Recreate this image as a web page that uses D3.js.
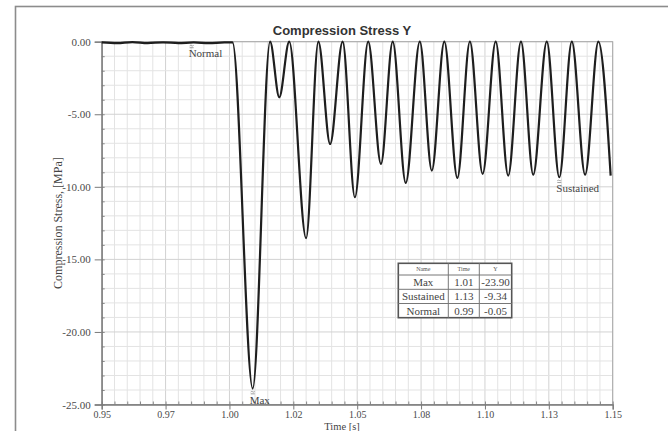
<!DOCTYPE html>
<html><head><meta charset="utf-8">
<script src="https://cdn.jsdelivr.net/npm/d3@7"></script>
<style>
html,body{margin:0;padding:0;background:#fff;}
svg{display:block;}
</style></head>
<body><svg id="c" width="668" height="431"></svg>
<script>
// ---- data ----
const time = [0.950, 0.956, 0.962, 0.968, 0.974, 0.980, 0.986, 0.992, 0.998, 1.0012,
  1.0091, 1.0159, 1.0195, 1.0234, 1.0300, 1.0348, 1.0394, 1.0443, 1.0491, 1.0543,
  1.0593, 1.0639, 1.0690, 1.0745, 1.0792, 1.0841, 1.0892, 1.0941, 1.0991, 1.1042,
  1.1091, 1.1141, 1.1189, 1.1242, 1.1291, 1.1340, 1.1392, 1.1444, 1.1492];
const stress = [-0.05, -0.10, -0.03, -0.10, -0.04, -0.10, -0.05, -0.10, -0.05, -0.05,
  -23.90, 0, -3.83, 0, -13.54, 0, -7.05, 0, -10.72, 0,
  -8.42, 0, -9.73, 0, -8.88, 0, -9.39, 0, -9.11, 0,
  -9.23, 0, -9.16, 0, -9.34, 0, -9.16, 0, -9.23];
const xTickValues = [0.95, 0.975, 1.0, 1.025, 1.05, 1.075, 1.1, 1.125, 1.15];
const xTickLabels = ["0.95", "0.97", "1.00", "1.02", "1.05", "1.08", "1.10", "1.13", "1.15"];
const yTickValues = [0, -5, -10, -15, -20, -25];
const yTickLabels = ["0.00", "-5.00", "-10.00", "-15.00", "-20.00", "-25.00"];
const markerNames = ["Max", "Sustained", "Normal"];
const markerTimes = [1.0091, 1.1291, 0.9852];
const markerValues = [-23.90, -9.34, -0.05];
const tableHeader = ["Name", "Time", "Y"];
const tableTimes = ["1.01", "1.13", "0.99"];
const tableY = ["-23.90", "-9.34", "-0.05"];
const titleText = "Compression Stress Y";
const xTitle = "Time [s]";
const yTitle = "Compression Stress, [MPa]";

// ---- layout ----
const svg = d3.select("#c");
const L = 101.7, R = 612.7, T = 41.7, B = 404.5;
const x = d3.scaleLinear().domain([0.95, 1.15]).range([L, R]);
const y = d3.scaleLinear().domain([0, -25]).range([T, B]);
const serif = "'Liberation Serif','Times New Roman',serif";

// outer frame
svg.append("rect").attr("x", 15.5).attr("y", 6.5).attr("width", 700).attr("height", 500)
  .attr("fill", "none").attr("stroke", "#8c8c8c").attr("stroke-width", 1.6);

// grid
const g = svg.append("g");
const vMinor = d3.range(0, 41).map(i => 0.95 + i * 0.005);
const hMinor = d3.range(0, 26).map(i => -i);
g.selectAll("line.v").data(vMinor).join("line")
  .attr("x1", d => x(d)).attr("x2", d => x(d)).attr("y1", T).attr("y2", B)
  .attr("stroke", (d, i) => i % 5 === 0 ? "#d2d2d2" : "#e3e3e3").attr("stroke-width", 1);
g.selectAll("line.h").data(hMinor).join("line")
  .attr("y1", d => y(d)).attr("y2", d => y(d)).attr("x1", L).attr("x2", R)
  .attr("stroke", (d, i) => i % 5 === 0 ? "#d2d2d2" : "#e3e3e3").attr("stroke-width", 1);

// plot border
svg.append("rect").attr("x", L).attr("y", T).attr("width", R - L).attr("height", B - T)
  .attr("fill", "none").attr("stroke", "#a8a8a8").attr("stroke-width", 1);

// minor ticks (inside)
svg.append("g").attr("transform", `translate(0,${B})`)
  .call(d3.axisBottom(x).tickValues(vMinor).tickSize(-3).tickFormat(""))
  .call(s => { s.select(".domain").remove(); s.selectAll("line").attr("stroke", "#888"); });
svg.append("g").attr("transform", `translate(${L},0)`)
  .call(d3.axisLeft(y).tickValues(hMinor).tickSize(-3).tickFormat(""))
  .call(s => { s.select(".domain").remove(); s.selectAll("line").attr("stroke", "#888"); });

// axes
const xa = svg.append("g").attr("transform", `translate(0,${B})`)
  .call(d3.axisBottom(x).tickValues(xTickValues).tickSize(5).tickPadding(1)
    .tickFormat((d, i) => xTickLabels[i]));
const ya = svg.append("g").attr("transform", `translate(${L},0)`)
  .call(d3.axisLeft(y).tickValues(yTickValues).tickSize(7).tickPadding(4)
    .tickFormat((d, i) => yTickLabels[i]));
[xa, ya].forEach(a => {
  a.select(".domain").attr("stroke", "#7a7a7a").attr("stroke-width", 1.3);
  a.selectAll(".tick line").attr("stroke", "#7a7a7a");
  a.selectAll("text").attr("font-family", serif).attr("font-size", 11).attr("fill", "#4a4a4a");
});
xa.selectAll("text").attr("font-size", 10);

// curve
const pts = time.map((t, i) => [t, stress[i]]);
const line = d3.line().x(d => x(d[0])).y(d => y(d[1])).curve(d3.curveMonotoneX);
svg.append("path").datum(pts).attr("d", line).attr("fill", "none")
  .attr("stroke", "#1e1e1e").attr("stroke-width", 2.2).attr("stroke-linejoin", "round");

// markers (small gray symbol) + labels
markerNames.forEach((n, i) => {
  const mx = x(markerTimes[i]), my = y(markerValues[i]);
  const p = d3.path();
  p.moveTo(mx - 2, my + 3.5); p.quadraticCurveTo(mx - 1, my + 2.5, mx, my + 3.2);
  p.quadraticCurveTo(mx + 1, my + 4, mx + 2, my + 3);
  p.moveTo(mx - 2, my + 5.3); p.lineTo(mx + 2, my + 5.3);
  svg.append("path").attr("d", p.toString()).attr("fill", "none")
    .attr("stroke", "#888").attr("stroke-width", 0.8);
  svg.append("text").attr("x", mx - 3).attr("y", my + 15)
    .attr("font-family", serif).attr("font-size", 11).attr("fill", "#444").text(n);
});

// titles
svg.append("text").attr("x", 342).attr("y", 35).attr("text-anchor", "middle")
  .attr("font-family", "'Liberation Sans',Arial,sans-serif").attr("font-weight", "bold")
  .attr("font-size", 13).attr("fill", "#333").text(titleText);
svg.append("text").attr("x", 342).attr("y", 429.5).attr("text-anchor", "middle")
  .attr("font-family", serif).attr("font-size", 10.5).attr("fill", "#444").text(xTitle);
svg.append("text").attr("transform", `translate(62,${(T + B) / 2}) rotate(-90)`)
  .attr("text-anchor", "middle").attr("font-family", serif).attr("font-size", 12)
  .attr("fill", "#444").text(yTitle);

// table
const colX = [398.3, 448.3, 479.3, 511.7];
const rowY = [263.3, 275, 289.3, 303.5, 317.7];
const tg = svg.append("g");
tg.append("rect").attr("x", colX[0]).attr("y", rowY[0]).attr("width", colX[3] - colX[0])
  .attr("height", rowY[4] - rowY[0]).attr("fill", "#fff").attr("stroke", "#555").attr("stroke-width", 1.6);
colX.slice(1, 3).forEach(cx => tg.append("line").attr("x1", cx).attr("x2", cx)
  .attr("y1", rowY[0]).attr("y2", rowY[4]).attr("stroke", "#777").attr("stroke-width", 1));
rowY.slice(1, 4).forEach(ry => tg.append("line").attr("y1", ry).attr("y2", ry)
  .attr("x1", colX[0]).attr("x2", colX[3]).attr("stroke", "#777").attr("stroke-width", 1));
const mid = j => (colX[j] + colX[j + 1]) / 2;
tableHeader.forEach((h, j) => tg.append("text").attr("x", mid(j)).attr("y", rowY[0] + 8)
  .attr("text-anchor", "middle").attr("font-family", serif).attr("font-size", 6).attr("fill", "#555").text(h));
const cols = [markerNames, tableTimes, tableY];
cols.forEach((col, j) => col.forEach((v, i) => tg.append("text").attr("x", mid(j))
  .attr("y", rowY[i + 1] + 11).attr("text-anchor", "middle").attr("font-family", serif)
  .attr("font-size", 11).attr("fill", "#444").text(v)));
</script></body></html>
